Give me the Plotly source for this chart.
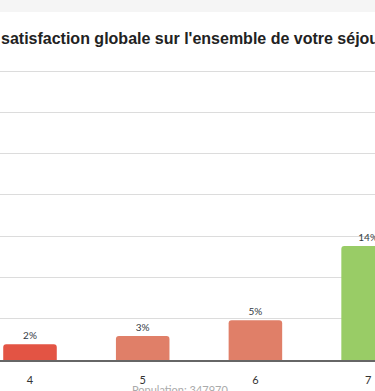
import plotly.graph_objects as go

categories = [4, 5, 6, 7]
values = [1.9, 2.9, 4.8, 13.8]
labels = ["2%", "3%", "5%", "14%"]
colors = ["#e35444", "#e07f68", "#e07f68", "#99cc66"]
grid_vals = [0, 5, 10, 15, 20, 25, 30, 35]
title_text = "satisfaction globale sur l'ensemble de votre séjour"
population_text = "Population: 347970"

W, H = 375, 391
top, bottom = 69, 31
plot_h = H - top - bottom
y_max = 35 * plot_h / (plot_h - 2)

px_per_cat = 112.7
x_left = 4 - 30 / px_per_cat
x_right = 4 + (W - 30) / px_per_cat

fig = go.Figure()
fig.add_trace(go.Bar(
    x=categories, y=values, text=labels, textposition="outside",
    textfont=dict(family="Lato", size=10, color="#333a44"),
    marker=dict(color=colors, cornerradius=3, line=dict(width=0)),
    width=0.475, cliponaxis=False, hoverinfo="skip",
))

fig.update_layout(
    width=W, height=H,
    margin=dict(l=0, r=0, t=top, b=bottom, pad=0),
    paper_bgcolor="white", plot_bgcolor="white",
    showlegend=False,
    xaxis=dict(range=[x_left, x_right], tickvals=categories,
               ticktext=[str(c) for c in categories],
               tickfont=dict(family="Lato", size=11, color="#333"),
               showgrid=False, zeroline=False, showline=True,
               linecolor="#666", linewidth=1.5,
               ticks="outside", ticklen=9, tickcolor="rgba(0,0,0,0)"),
    yaxis=dict(range=[0, y_max], tickvals=grid_vals, showticklabels=False,
               showgrid=True, gridcolor="#dcdcdc", gridwidth=1,
               zeroline=False, showline=False),
    shapes=[dict(type="rect", xref="paper", yref="paper",
                 x0=0, x1=1, y0=1 + (top - 12) / plot_h, y1=1 + top / plot_h,
                 fillcolor="#f5f5f5", line=dict(width=0), layer="below")],
    annotations=[
        dict(text=title_text, xref="paper", yref="paper", x=0, y=1,
             xanchor="left", yanchor="bottom", yshift=20, showarrow=False,
             font=dict(family="Liberation Sans", size=16, color="#222",
                       weight="bold"),
             xshift=-1),
        dict(text=population_text, xref="paper", yref="paper", x=180 / W, y=0,
             xanchor="center", yanchor="top", yshift=-21, showarrow=False,
             font=dict(family="Lato", size=11, color="#aaa")),
    ],
)

fig.write_html("out.html", config={"displayModeBar": False},
               post_script="document.body.style.margin='0';document.body.style.overflow='hidden';")
